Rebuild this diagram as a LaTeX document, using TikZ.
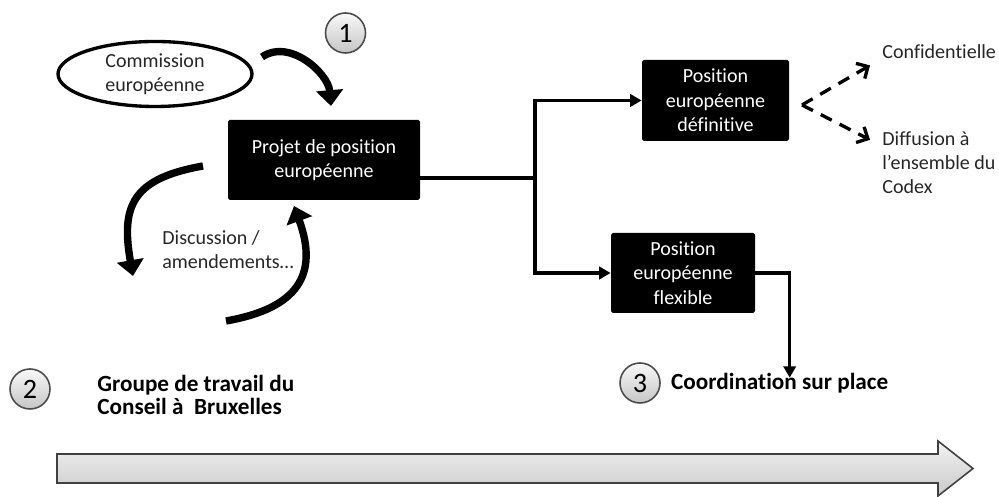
\documentclass[tikz,border=0pt]{standalone}
\usepackage{fontspec}
\setmainfont{Carlito}[Ligatures=NoCommon]
\usepackage{tikz}
\usetikzlibrary{arrows.meta, positioning, shapes.geometric, calc}

\begin{document}
\begin{tikzpicture}[
            block/.style={rectangle, fill=black, text=white, rounded corners=1pt, align=center, font=\fontsize{11.4}{13.9}\selectfont},
            txt/.style={align=left, inner sep=0pt, text=black!85, font=\fontsize{11.4}{13.6}\selectfont},
            bold/.style={align=left, inner sep=0pt, font=\bfseries\fontsize{13.2}{13.1}\selectfont},
            num/.style={circle, draw=black!70, line width=0.9pt, top color=gray!5, bottom color=gray!45, minimum size=0.8cm, inner sep=0pt, font=\fontsize{16}{16}\selectfont},
            line/.style={line width=1.9pt},
            arr/.style={line width=1.9pt, -{Triangle[length=6.5pt, width=7pt]}},
            dasharr/.style={line width=1.9pt, dash pattern=on 7pt off 5pt, -{Straight Barb[length=5pt, width=10pt]}},
            roundarr/.style={line width=4.2pt, -{Triangle[length=9pt, width=15pt]}},
            node distance=0.2cm and 0.2cm
        ]

        \useasboundingbox (0,0) rectangle (19.98,9.94);

        \node[ellipse, draw, line width=1.9pt, minimum width=3.88cm, minimum height=1.3cm, inner sep=0pt, align=center, text=black!85, font=\fontsize{11.4}{13.6}\selectfont] (comm) at (3.10,8.46) {Commission\\européenne};
        \node[num] (one) at (6.91,9.28) {1};

        \node[block, minimum width=3.84cm, minimum height=1.6cm] (proj) at (6.48,6.74) {Projet de position\\européenne};
        \node[txt, anchor=west] (disc) at (3.24,4.95) {Discussion /\\amendements…};

        \node[block, minimum width=2.94cm, minimum height=1.62cm] (def) at (14.31,7.93) {Position\\européenne\\définitive};
        \node[block, minimum width=2.88cm, minimum height=1.6cm] (flex) at (13.66,4.48) {Position\\européenne\\flexible};

        \node[txt, anchor=west] (conf) at (17.64,8.90) {Confidentielle};
        \node[txt, anchor=west] (diff) at (17.64,6.68) {Diffusion à\\l’ensemble du\\Codex};

        \node[num] (two) at (0.60,2.16) {2};
        \node[bold, anchor=west] (grp) at (1.94,2.05) {Groupe de travail du\\Conseil à\ \ Bruxelles};

        \node[num] (three) at (12.80,2.28) {3};
        \node[bold, right=of three] (coord) {Coordination sur place};

        % cycle arrows round the draft
        \coordinate (a1) at (5.24,8.80);
        \coordinate (a2) at (6.62,7.82);
        \coordinate (b1) at (4.06,6.62);
        \coordinate (b2) at (2.66,4.42);
        \coordinate (c1) at (4.52,3.52);
        \coordinate (c2) at (5.88,5.82);
        \draw[roundarr] (a1) to[out=35, in=95] (a2);
        \draw[roundarr] (b1) to[out=190, in=100, looseness=1.4] (b2);
        \draw[roundarr] (c1) to[out=10, in=-70, looseness=1.4] (c2);

        \coordinate (fork) at (10.70,6.38);
        \draw[line] ([yshift=-0.36cm]proj.east) -- (fork);
        \draw[arr] (fork) |- (def.west);
        \draw[arr] (fork) |- (flex.west);
        \draw[arr] (flex.east) -| ([xshift=0.2cm, yshift=-0.1cm]coord.north);

        \coordinate (split) at (16.04,7.84);
        \draw[dasharr] (split) -- ([shift={(-0.24,-0.12)}]conf.south west);
        \draw[dasharr] (split) -- ([shift={(-0.24,-0.16)}]diff.north west);

        %\draw[->] (grp) -- (coord);
        \draw[top color=gray!10, bottom color=gray!42, draw=black!75, line width=0.9pt] (1.14,0.86) -- (18.76,0.86) -- (18.76,1.12) -- (19.46,0.57) -- (18.76,0.02) -- (18.76,0.28) -- (1.14,0.28) -- cycle;

    \end{tikzpicture}
\end{document}
